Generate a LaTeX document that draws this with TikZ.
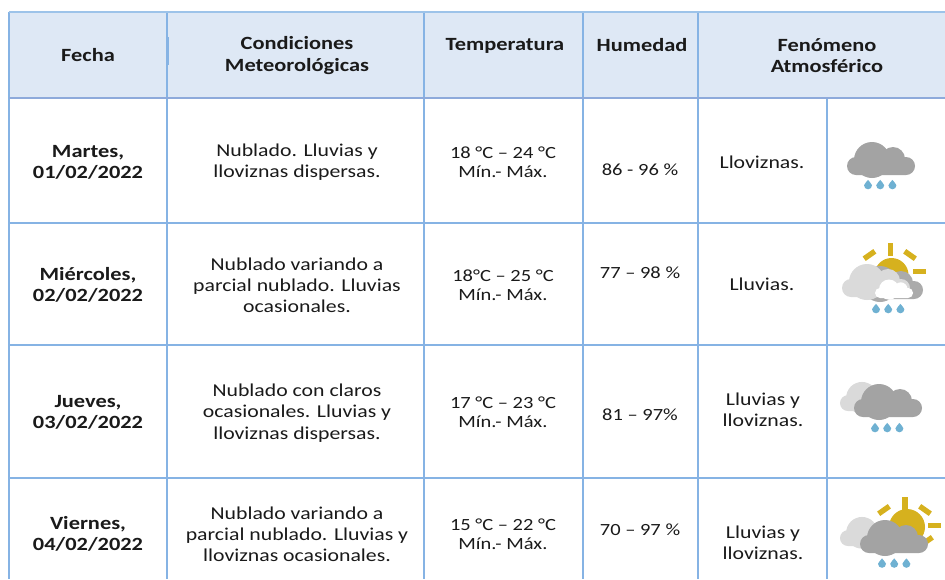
\documentclass[tikz,border=0pt]{standalone}
\usepackage{fontspec}
\setmainfont{Carlito}[FakeStretch=1.2]
\definecolor{headfill}{HTML}{DEE8F5}
\definecolor{gridblue}{HTML}{86B3E4}
\definecolor{headtop}{HTML}{9DC3E9}
\definecolor{headline}{HTML}{8EAADB}
\definecolor{cloudD}{HTML}{A3A3A3}
\definecolor{cloudL}{HTML}{DADADA}
\definecolor{cloudM}{HTML}{ABABAB}
\definecolor{sunY}{HTML}{D6B11E}
\definecolor{dropB}{HTML}{6FB1D2}
\definecolor{inkc}{HTML}{1A1A1A}
\tikzset{
  cell/.style={align=center,inner sep=0pt,text=inkc,font=\fontsize{13.6}{15.9}\selectfont},
  numcell/.style={cell,font=\fontsize{12.8}{14.6}\selectfont},
  headcell/.style={cell,font=\fontsize{14}{15.9}\selectfont\bfseries},
  gridline/.style={draw=gridblue,line width=1pt},
  rayb/.style={fill=sunY},
}
% #1 left x, #2 bottom y, #3 scale, #4 colour
\newcommand{\wcloud}[4]{%
  \begin{scope}[shift={(#1,#2)},x=#3*0.75pt,y=-#3*0.75pt]
    \fill[#4,rounded corners=#3*6.75pt] (0,0) rectangle (68,-18);
    \fill[#4] (25,-15) circle[radius=18];
    \fill[#4] (46,-16) circle[radius=12];
  \end{scope}}
\newcommand{\wdrop}[2]{%
  \fill[dropB] (#1,#2-4.6) .. controls (#1+1,#2-2.7) and (#1+4,#2-0.8) .. (#1+4,#2+0.8)
     arc[start angle=0,end angle=180,radius=4]
     .. controls (#1-4,#2-0.8) and (#1-1,#2-2.7) .. (#1,#2-4.6) -- cycle;}
\newcommand{\wdrops}[2]{\wdrop{#1}{#2}\wdrop{#1+12.2}{#2}\wdrop{#1+24.4}{#2}}
\newcommand{\wray}[3]{\fill[rayb,rotate around={#3:(#1,#2)}] (#1-6.5,#2-2.7) rectangle (#1+6.5,#2+2.7);}
\begin{document}
\begin{tikzpicture}[x=0.75pt,y=-0.75pt]
\path[use as bounding box] (0,0) rectangle (945,579);
\fill[white] (0,0) rectangle (945,579);
% header
\fill[headfill] (9,12) rectangle (945,98);
% grid
\foreach \yy in {223,345,478} \draw[gridline] (9,\yy) -- (945,\yy);
\foreach \xx in {9,167,424,583,698} \draw[gridline] (\xx,12) -- (\xx,579);
\draw[gridline] (168,37) -- (168,65);
\draw[gridline] (827,98) -- (827,579);
\draw[draw=headtop,line width=1pt] (9,12) -- (945,12);
\draw[draw=headline,line width=2pt] (9,98) -- (945,98);
% header text
\node[headcell] (h1) at (88,55) {Fecha};
\node[headcell] (h2) at (297,55.5) {Condiciones\\Meteorológicas};
\node[headcell] (h3) at (505,46) {Temperatura};
\node[headcell] (h4) at (642,45) {Humedad};
\node[headcell] (h5) at (827,56) {Fenómeno\\Atmosférico};
% row 1
\node[headcell] (a1) at (88,162.5) {Martes,\\01/02/2022};
\node[cell] (a2) at (297,162.5) {Nublado. Lluvias y\\lloviznas dispersas.};
\node[numcell] (a3) at (503,162) {18 °C – 24 °C\\Mín.- Máx.};
\node[numcell] (a4) at (640,169.5) {86 - 96 \%};
\node[cell] (a5) at (762,162.5) {Lloviznas.};
% row 2
\node[headcell] (b1) at (88,285) {Miércoles,\\02/02/2022};
\node[cell] (b2) at (297,285.5) {Nublado variando a\\parcial nublado. Lluvias\\ocasionales.};
\node[numcell] (b3) at (503,285) {18°C – 25 °C\\Mín.- Máx.};
\node[numcell] (b4) at (640,272.5) {77 – 98 \%};
\node[cell] (b5) at (762,284.5) {Lluvias.};
% row 3
\node[headcell] (c1) at (88,412) {Jueves,\\03/02/2022};
\node[cell] (c2) at (297,413) {Nublado con claros\\ocasionales. Lluvias y\\lloviznas dispersas.};
\node[numcell] (c3) at (503,412) {17 °C – 23 °C\\Mín.- Máx.};
\node[numcell] (c4) at (640,414.5) {81 – 97\%};
\node[cell] (c5) at (763,409.5) {Lluvias y\\lloviznas.};
% row 4
\node[headcell] (d1) at (88,534) {Viernes,\\04/02/2022};
\node[cell] (d2) at (297,534.5) {Nublado variando a\\parcial nublado. Lluvias y\\lloviznas ocasionales.};
\node[numcell] (d3) at (503,534) {15 °C – 22 °C\\Mín.- Máx.};
\node[numcell] (d4) at (640,529.5) {70 – 97 \%};
\node[cell] (d5) at (763,542.5) {Lluvias y\\lloviznas.};
% icon 1
\wcloud{847}{175}{1}{cloudD}
\wdrops{868}{184.5}
% icon 2
\fill[sunY] (891.5,275) circle[radius=17];
\wray{890.5}{249.5}{90}
\wray{869.5}{255}{35}
\wray{910}{255}{-35}
\wray{919.5}{271.5}{0}
\wcloud{855}{299}{1}{cloudM}
\wcloud{842}{297}{1}{cloudL}
\wcloud{875}{298}{0.56}{white}
\wdrops{876}{308.5}
% icon 3
\wcloud{840}{411}{0.88}{cloudL}
\wcloud{854}{417}{1}{cloudD}
\wdrops{875}{427.5}
% icon 4
\fill[sunY] (907,527) circle[radius=18];
\wray{905}{503.5}{90}
\wray{884}{510}{35}
\wray{925}{510}{-35}
\wray{934.5}{525.5}{0}
\wray{927}{541}{35}
\wcloud{840}{546}{0.88}{cloudL}
\wcloud{860}{553}{1}{cloudD}
\wdrops{882}{563}
\end{tikzpicture}
\end{document}
